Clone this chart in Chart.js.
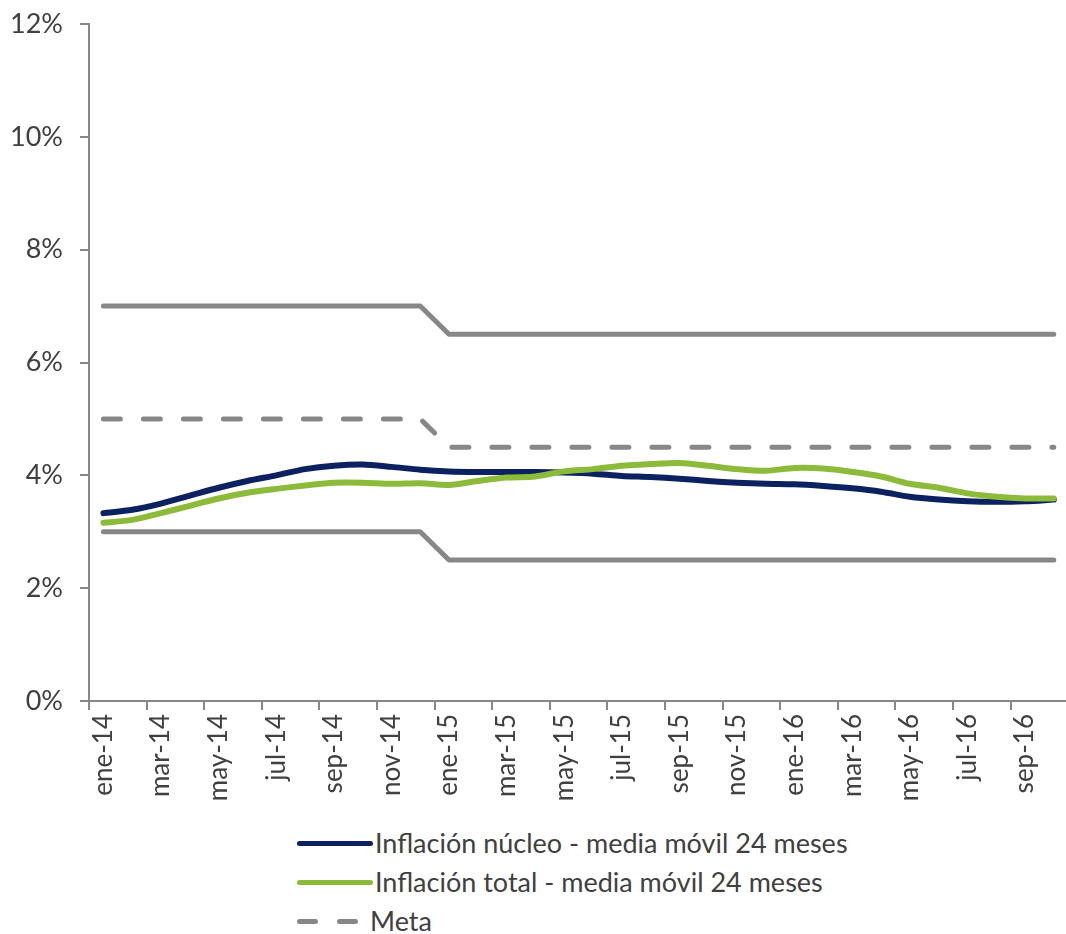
<!DOCTYPE html>
<html lang="es">
<head>
<meta charset="utf-8">
<title>Inflación - media móvil 24 meses</title>
<script src="https://cdn.jsdelivr.net/npm/chart.js@4.4.1/dist/chart.umd.min.js"></script>
<style>
  html, body { margin: 0; padding: 0; background: #fff; overflow: hidden; }
  body { width: 1066px; height: 934px; position: relative; font-family: Lato, "Open Sans", sans-serif; }
  #wrap { position: absolute; left: 0; top: 0; width: 1089px; height: 810px; }
  #legend { position: absolute; left: 297px; top: 823px; color: #404040; font-size: 27px; }
  .lg-row { position: relative; height: 39px; line-height: 39px; white-space: nowrap; }
  .lg-line { position: absolute; left: 0; top: 18px; width: 76px; height: 5px; border-radius: 3px; }
  .lg-dash { position: absolute; top: 18px; width: 21px; height: 5px; border-radius: 3px; background: #878787; }
  .lg-text { position: absolute; left: 78px; top: 0; }
</style>
</head>
<body>
<div id="wrap"><canvas id="chart"></canvas></div>
<div id="legend"></div>
<script>
// Meses (ene-14 a oct-16)
const months = [
  'ene-14', 'feb-14', 'mar-14', 'abr-14', 'may-14', 'jun-14', 'jul-14', 'ago-14', 'sep-14', 'oct-14', 'nov-14', 'dic-14',
  'ene-15', 'feb-15', 'mar-15', 'abr-15', 'may-15', 'jun-15', 'jul-15', 'ago-15', 'sep-15', 'oct-15', 'nov-15', 'dic-15',
  'ene-16', 'feb-16', 'mar-16', 'abr-16', 'may-16', 'jun-16', 'jul-16', 'ago-16', 'sep-16', 'oct-16',
];

// Inflación núcleo - media móvil 24 meses (%)
const nucleo = [
  3.33, 3.39, 3.50, 3.64, 3.78, 3.90, 4.00, 4.11, 4.17, 4.19, 4.15, 4.10,
  4.07, 4.06, 4.06, 4.06, 4.05, 4.03, 3.99, 3.97, 3.94, 3.90, 3.87, 3.85,
  3.84, 3.81, 3.77, 3.71, 3.62, 3.57, 3.54, 3.53, 3.54, 3.57,
];

// Inflación total - media móvil 24 meses (%)
const total = [
  3.16, 3.21, 3.33, 3.46, 3.59, 3.69, 3.76, 3.82, 3.87, 3.87, 3.85, 3.86,
  3.83, 3.90, 3.96, 3.98, 4.07, 4.11, 4.17, 4.20, 4.22, 4.17, 4.11, 4.08,
  4.13, 4.12, 4.06, 3.98, 3.85, 3.78, 3.68, 3.62, 3.59, 3.59,
];

// Meta y rango
const meta = [
  5, 5, 5, 5, 5, 5, 5, 5, 5, 5, 5, 5,
  4.5, 4.5, 4.5, 4.5, 4.5, 4.5, 4.5, 4.5, 4.5, 4.5, 4.5, 4.5,
  4.5, 4.5, 4.5, 4.5, 4.5, 4.5, 4.5, 4.5, 4.5, 4.5,
];
const rangoSup = [
  7, 7, 7, 7, 7, 7, 7, 7, 7, 7, 7, 7,
  6.5, 6.5, 6.5, 6.5, 6.5, 6.5, 6.5, 6.5, 6.5, 6.5, 6.5, 6.5,
  6.5, 6.5, 6.5, 6.5, 6.5, 6.5, 6.5, 6.5, 6.5, 6.5,
];
const rangoInf = [
  3, 3, 3, 3, 3, 3, 3, 3, 3, 3, 3, 3,
  2.5, 2.5, 2.5, 2.5, 2.5, 2.5, 2.5, 2.5, 2.5, 2.5, 2.5, 2.5,
  2.5, 2.5, 2.5, 2.5, 2.5, 2.5, 2.5, 2.5, 2.5, 2.5,
];

const yTicks = [0, 2, 4, 6, 8, 10, 12];

const NAVY = '#0b2160';
const GREEN = '#8cbb3a';
const GRAY = '#878787';
const TEXT = '#404040';

const datasets = [
  { label: 'Inflación núcleo - media móvil 24 meses', data: nucleo, borderColor: NAVY, borderWidth: 6, tension: 0.3, order: 1 },
  { label: 'Inflación total - media móvil 24 meses', data: total, borderColor: GREEN, borderWidth: 6, tension: 0.3, order: 0 },
  { label: 'Meta', data: meta, borderColor: GRAY, borderWidth: 5, borderDash: [17, 23], tension: 0, order: 2 },
  { label: '', data: rangoSup, borderColor: GRAY, borderWidth: 5, tension: 0, order: 3 },
  { label: '', data: rangoInf, borderColor: GRAY, borderWidth: 5, tension: 0, order: 4 },
].map((d) => Object.assign({ pointRadius: 0, fill: false, borderCapStyle: 'round', borderJoinStyle: 'round' }, d));

const chart = new Chart(document.getElementById('chart'), {
  type: 'line',
  data: { labels: months, datasets },
  options: {
    responsive: true,
    maintainAspectRatio: false,
    animation: false,
    layout: { padding: { top: 24, left: 0, right: 0, bottom: 0 } },
    plugins: { legend: { display: false }, tooltip: { enabled: false } },
    scales: {
      x: {
        offset: true,
        afterFit: (s) => { s.height = 109; },
        border: { color: GRAY, width: 2 },
        grid: {
          offset: true,
          drawOnChartArea: false,
          tickLength: 9,
          lineWidth: 2,
          tickColor: (ctx) => (ctx.index % 2 === 0 ? GRAY : 'rgba(0,0,0,0)'),
        },
        ticks: {
          autoSkip: false,
          minRotation: 90,
          maxRotation: 90,
          padding: 4,
          color: TEXT,
          font: { family: 'Lato', size: 26 },
          callback: (v, i) => (i % 2 === 0 ? months[i] : ''),
        },
      },
      y: {
        min: 0,
        max: 12,
        afterFit: (s) => { s.width = 89; s.paddingTop = 0; s.paddingBottom = 0; },
        afterBuildTicks: (s) => { s.ticks = yTicks.map((v) => ({ value: v })); },
        border: { color: GRAY, width: 2 },
        grid: { drawOnChartArea: false, tickLength: 9, lineWidth: 2, color: GRAY },
        ticks: {
          padding: 17,
          color: TEXT,
          font: { family: 'Lato', size: 27 },
          callback: (v) => v + '%',
        },
      },
    },
  },
});

// Leyenda (HTML) – una entrada por fila, alineada a la izquierda
const legend = document.getElementById('legend');
datasets.slice(0, 3).forEach((d) => {
  const row = document.createElement('div');
  row.className = 'lg-row';
  if (d.borderDash) {
    [0, 40].forEach((x) => {
      const dash = document.createElement('div');
      dash.className = 'lg-dash';
      dash.style.left = x + 'px';
      row.appendChild(dash);
    });
  } else {
    const line = document.createElement('div');
    line.className = 'lg-line';
    line.style.background = d.borderColor;
    row.appendChild(line);
  }
  const txt = document.createElement('span');
  txt.className = 'lg-text';
  txt.textContent = d.label;
  if (d.borderDash) txt.style.left = '73px';
  row.appendChild(txt);
  legend.appendChild(row);
});
</script>
</body>
</html>
